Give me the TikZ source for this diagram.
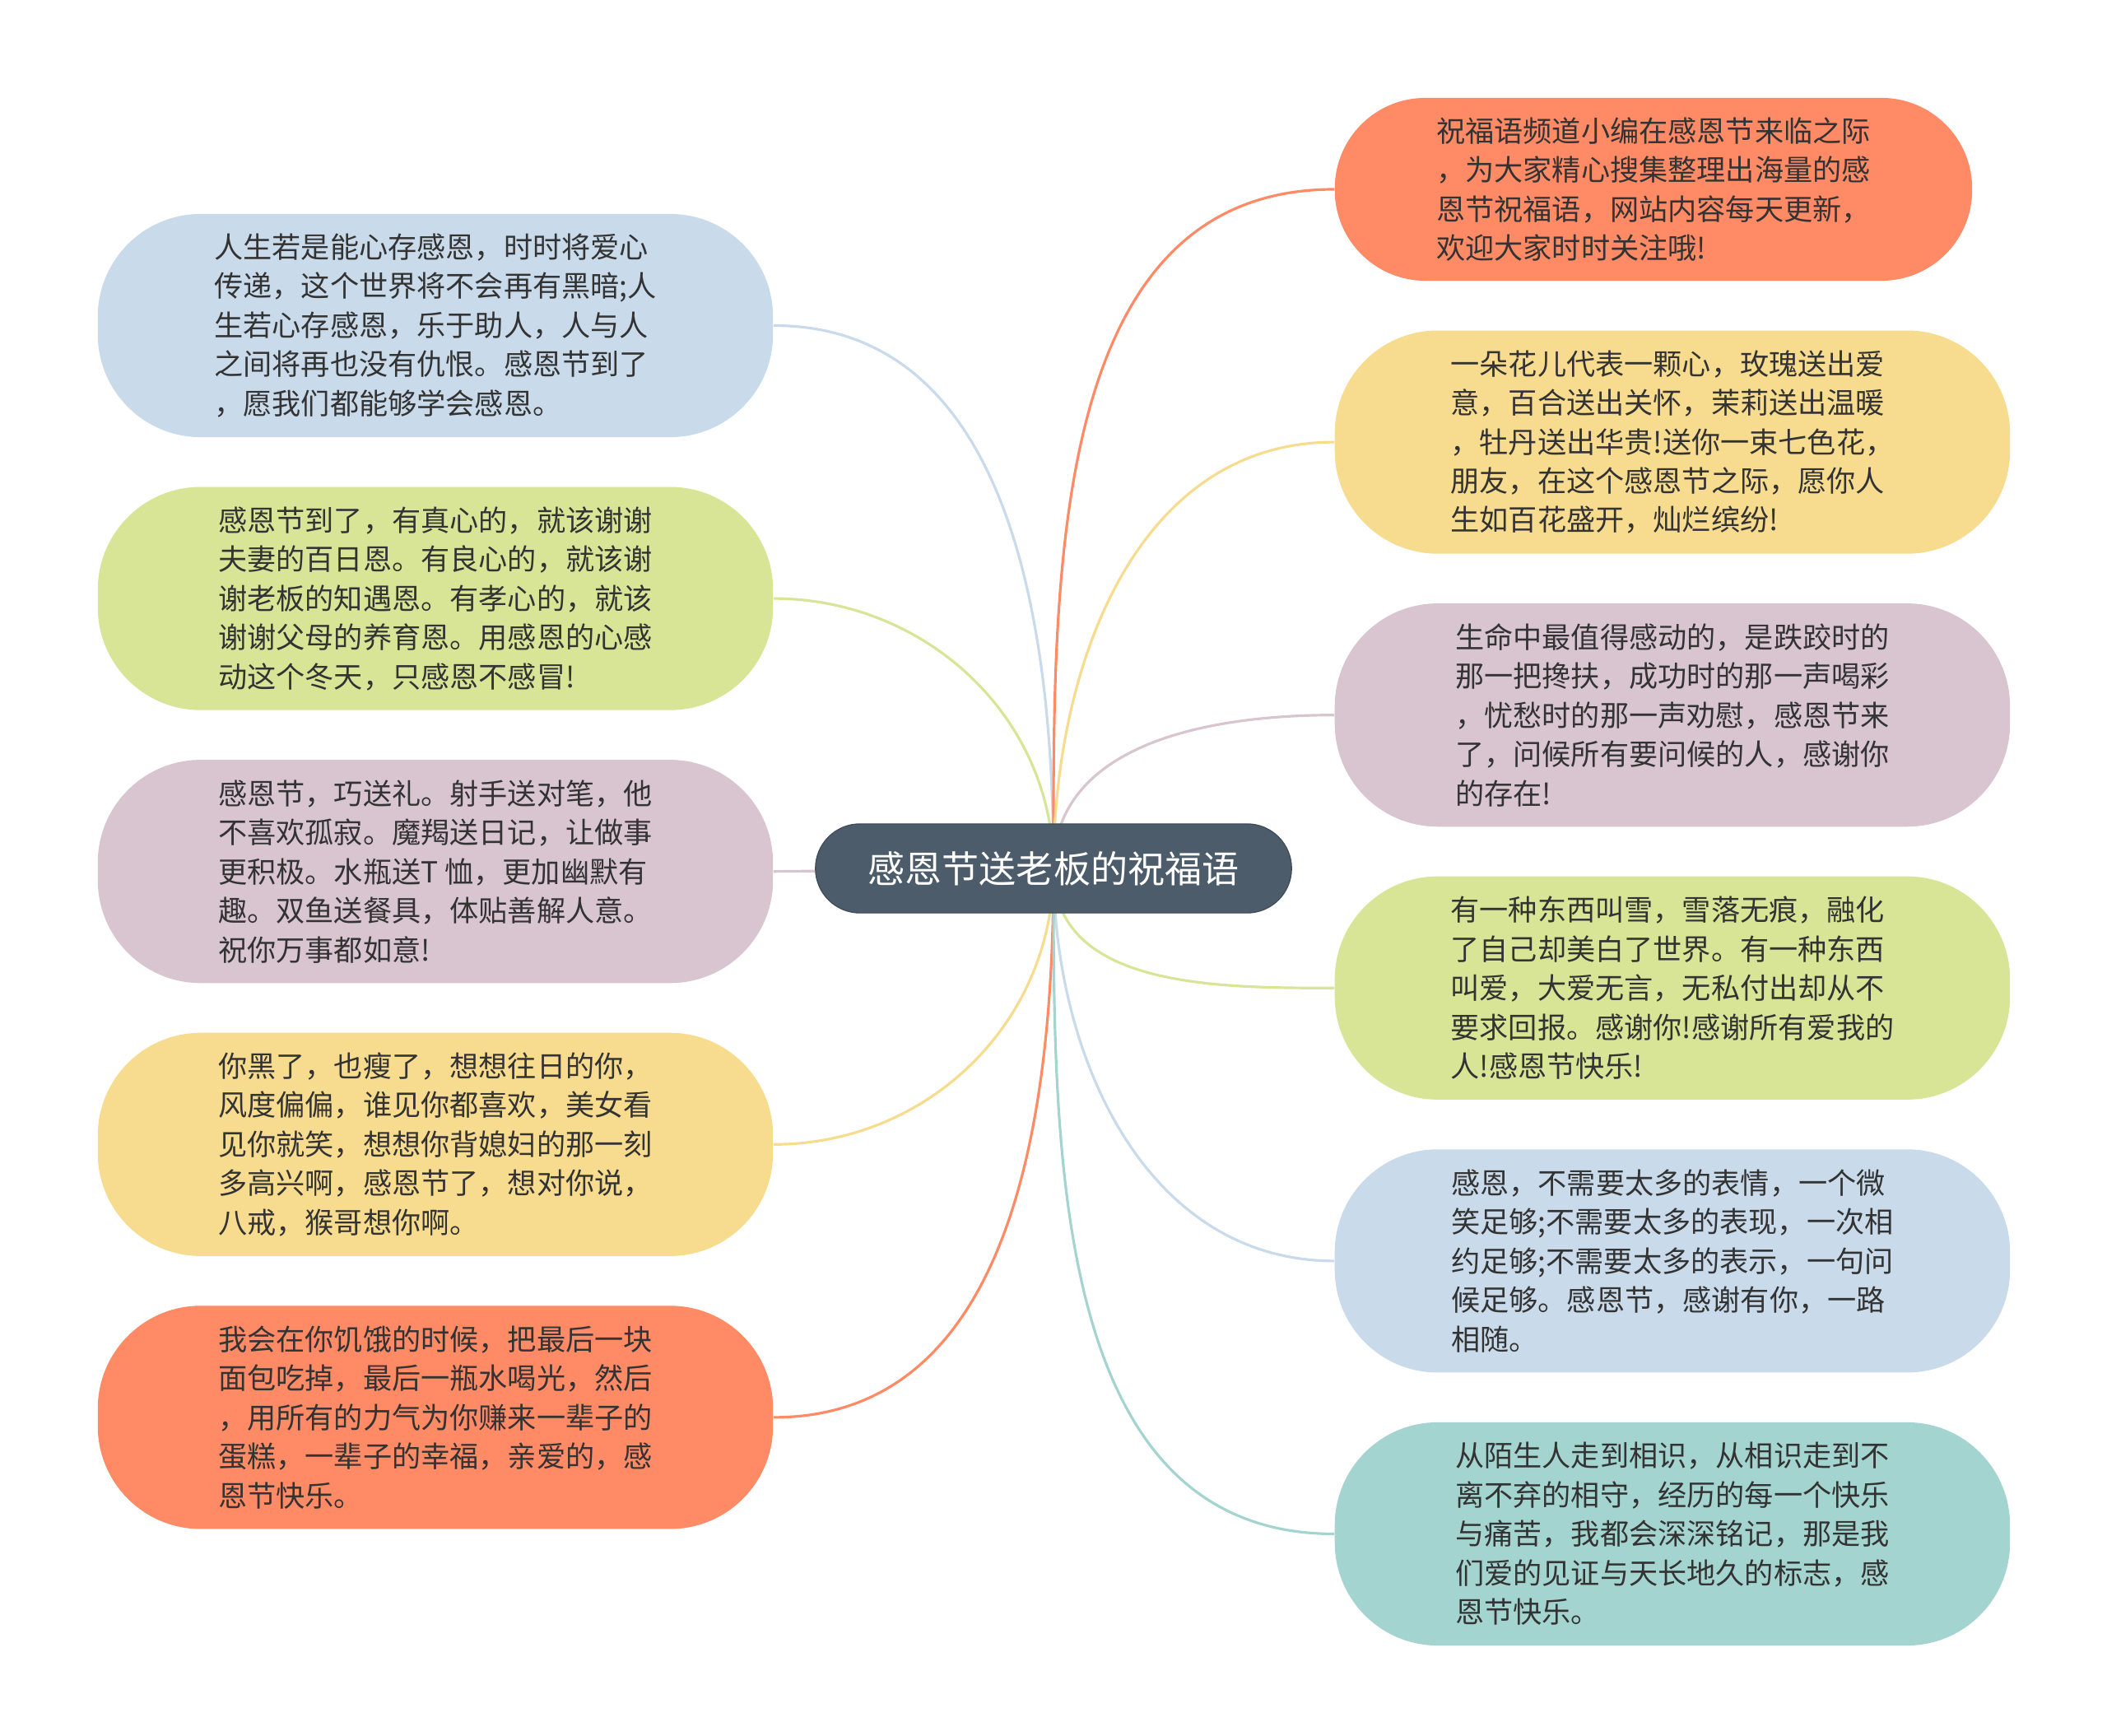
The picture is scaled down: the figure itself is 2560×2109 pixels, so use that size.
\documentclass[tikz,border=0pt]{standalone}
\usepackage{fontspec}
\newfontfamily\cjk{Noto Sans CJK SC}
\usepackage{xcolor}
\definecolor{cRoot}{HTML}{4D5C6B}
\definecolor{cText}{HTML}{333333}
\definecolor{cBlue}{HTML}{C9DAEA}
\definecolor{cGreen}{HTML}{D8E597}
\definecolor{cMauve}{HTML}{D8C5D0}
\definecolor{cYellow}{HTML}{F7DC8F}
\definecolor{cSalmon}{HTML}{FE8A66}
\definecolor{cTeal}{HTML}{A3D4CF}
\usepackage{tikz}
\usetikzlibrary{positioning,backgrounds}
\tikzset{
  node-root/.style={fill=cRoot,draw=cRoot!85!black,rounded corners=5.4mm,
    minimum width=57.8mm,minimum height=10.8mm,text=white,
    font=\cjk\fontsize{12.8}{15}\selectfont},
  node-leaf/.style={rounded corners=12.5mm,minimum width=82mm,
    minimum height=27.1mm,align=left,text=cText,
    font=\cjk\fontsize{10}{13.5}\selectfont},
  link/.style={line width=0.9pt},
}

\begin{document}
\begin{tikzpicture}[x=0.01cm,y=-0.01cm,node distance=5.9mm]
  \useasboundingbox (0,0) rectangle (2560,2109);
  \node[node-root] (root) at (1280,1055) {感恩节送老板的祝福语};
  % left side
  \node[node-leaf,fill=cBlue] (l1) at (529,395.5) {人生若是能心存感恩，时时将爱心\\传递，这个世界将不会再有黑暗;人\\生若心存感恩，乐于助人，人与人\\之间将再也没有仇恨。感恩节到了\\，愿我们都能够学会感恩。};
  \node[node-leaf,fill=cGreen,below=of l1] (l2) {感恩节到了，有真心的，就该谢谢\\夫妻的百日恩。有良心的，就该谢\\谢老板的知遇恩。有孝心的，就该\\谢谢父母的养育恩。用感恩的心感\\动这个冬天，只感恩不感冒!};
  \node[node-leaf,fill=cMauve,below=of l2] (l3) {感恩节，巧送礼。射手送对笔，他\\不喜欢孤寂。魔羯送日记，让做事\\更积极。水瓶送T 恤，更加幽默有\\趣。双鱼送餐具，体贴善解人意。\\祝你万事都如意!};
  \node[node-leaf,fill=cYellow,below=of l3] (l4) {你黑了，也瘦了，想想往日的你，\\风度偏偏，谁见你都喜欢，美女看\\见你就笑，想想你背媳妇的那一刻\\多高兴啊，感恩节了，想对你说，\\八戒，猴哥想你啊。};
  \node[node-leaf,fill=cSalmon,below=of l4] (l5) {我会在你饥饿的时候，把最后一块\\面包吃掉，最后一瓶水喝光，然后\\，用所有的力气为你赚来一辈子的\\蛋糕，一辈子的幸福，亲爱的，感\\恩节快乐。};
  % right side
  \node[node-leaf,fill=cSalmon,minimum width=77.4mm,minimum height=22.2mm,
    rounded corners=11mm,anchor=west] (r1) at (1621,230) {祝福语频道小编在感恩节来临之际\\，为大家精心搜集整理出海量的感\\恩节祝福语，网站内容每天更新，\\欢迎大家时时关注哦!};
  \node[node-leaf,fill=cYellow,below=of r1.south west,anchor=north west] (r2) {一朵花儿代表一颗心，玫瑰送出爱\\意，百合送出关怀，茉莉送出温暖\\，牡丹送出华贵!送你一束七色花，\\朋友，在这个感恩节之际，愿你人\\生如百花盛开，灿烂缤纷!};
  \node[node-leaf,fill=cMauve,below=of r2] (r3) {生命中最值得感动的，是跌跤时的\\那一把搀扶，成功时的那一声喝彩\\，忧愁时的那一声劝慰，感恩节来\\了，问候所有要问候的人，感谢你\\的存在!};
  \node[node-leaf,fill=cGreen,below=of r3] (r4) {有一种东西叫雪，雪落无痕，融化\\了自己却美白了世界。有一种东西\\叫爱，大爱无言，无私付出却从不\\要求回报。感谢你!感谢所有爱我的\\人!感恩节快乐!};
  \node[node-leaf,fill=cBlue,below=of r4] (r5) {感恩，不需要太多的表情，一个微\\笑足够;不需要太多的表现，一次相\\约足够;不需要太多的表示，一句问\\候足够。感恩节，感谢有你，一路\\相随。};
  \node[node-leaf,fill=cTeal,below=of r5] (r6) {从陌生人走到相识，从相识走到不\\离不弃的相守，经历的每一个快乐\\与痛苦，我都会深深铭记，那是我\\们爱的见证与天长地久的标志，感\\恩节快乐。};
  \begin{scope}[on background layer]
    \draw[link,cBlue] (root.center) to[out=90,in=0] (l1.east);
    \draw[link,cGreen] (root.center) to[out=90,in=0] (l2.east);
    \draw[link,cMauve] (root.center) -- (l3.east);
    \draw[link,cYellow] (root.center) to[out=-90,in=0] (l4.east);
    \draw[link,cSalmon] (root.center) to[out=-90,in=0] (l5.east);
    \draw[link,cSalmon] (root.center) to[out=90,in=180] (r1.west);
    \draw[link,cYellow] (root.center) to[out=90,in=180] (r2.west);
    \draw[link,cMauve] (root.center) to[out=90,in=180] (r3.west);
    \draw[link,cGreen] (root.center) to[out=-90,in=180] (r4.west);
    \draw[link,cBlue] (root.center) to[out=-90,in=180] (r5.west);
    \draw[link,cTeal] (root.center) to[out=-90,in=180] (r6.west);
  \end{scope}
\end{tikzpicture}
\end{document}
